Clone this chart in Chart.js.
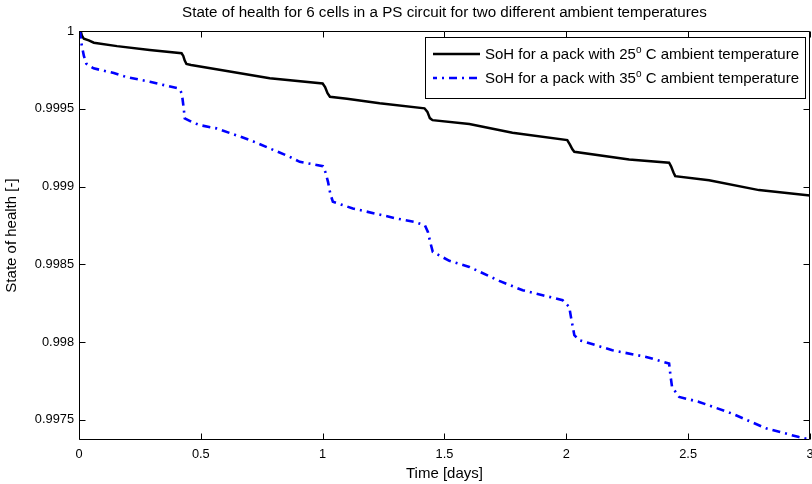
<!DOCTYPE html>
<html><head><meta charset="utf-8">
<script src="https://cdn.jsdelivr.net/npm/chart.js@4/dist/chart.umd.min.js"></script>
<style>html,body{margin:0;padding:0;overflow:hidden;background:#fff}#wrap{width:820px;height:484px;position:relative}</style>
</head><body><div id="wrap"><canvas id="c"></canvas></div>
<script>
const chartTitle = "State of health for 6 cells in a PS circuit for two different ambient temperatures";
const xAxisTitle = "Time [days]";
const yAxisTitle = "State of health [-]";
const seriesNames = ["SoH for a pack with 25\u1d52 C ambient temperature", "SoH for a pack with 35\u1d52 C ambient temperature"];
const xTickValues = [0, 0.5, 1, 1.5, 2, 2.5, 3];
const xTickLabels = ["0", "0.5", "1", "1.5", "2", "2.5", "3"];
const yTickValues = [0.9975, 0.998, 0.9985, 0.999, 0.9995, 1];
const yTickLabels = ["0.9975", "0.998", "0.9985", "0.999", "0.9995", "1"];

const t25 = [0, 0.007, 0.012, 0.02, 0.04, 0.061, 0.156, 0.29, 0.421, 0.428, 0.434, 0.441, 0.46, 0.564, 0.783, 1.0, 1.01, 1.02, 1.03, 1.1, 1.234, 1.418, 1.43, 1.44, 1.451, 1.602, 1.779, 2.004, 2.015, 2.025, 2.033, 2.258, 2.422, 2.43, 2.44, 2.447, 2.586, 2.791, 3.0];
const soh25 = [1.0, 1.0, 0.99997, 0.99995, 0.99994, 0.999925, 0.999903, 0.999878, 0.999857, 0.99984, 0.99981, 0.999788, 0.999782, 0.999754, 0.999696, 0.999663, 0.99964, 0.9996, 0.999577, 0.999565, 0.999535, 0.999503, 0.99948, 0.99944, 0.999427, 0.999402, 0.999346, 0.999299, 0.99927, 0.99924, 0.999223, 0.999174, 0.999153, 0.99913, 0.99909, 0.999067, 0.999041, 0.998977, 0.998943];

const t35 = [0, 0.005, 0.01, 0.02, 0.03, 0.06, 0.143, 0.195, 0.291, 0.407, 0.414, 0.422, 0.43, 0.434, 0.47, 0.496, 0.564, 0.7, 0.865, 0.906, 1.001, 1.012, 1.022, 1.032, 1.042, 1.124, 1.213, 1.302, 1.377, 1.42, 1.432, 1.442, 1.452, 1.52, 1.602, 1.725, 1.821, 1.903, 1.985, 2.012, 2.019, 2.033, 2.053, 2.189, 2.328, 2.422, 2.428, 2.434, 2.463, 2.545, 2.68, 2.82, 2.955, 3.0];
const soh35 = [1.0, 0.99999, 0.99992, 0.99984, 0.99979, 0.99976, 0.99973, 0.999704, 0.999674, 0.999631, 0.99962, 0.9996, 0.9995, 0.999438, 0.99941, 0.999395, 0.999374, 0.9993, 0.999191, 0.999159, 0.999131, 0.99909, 0.99903, 0.99895, 0.998902, 0.998859, 0.998827, 0.998795, 0.998773, 0.99875, 0.998708, 0.99864, 0.99858, 0.998522, 0.998483, 0.998393, 0.998333, 0.998301, 0.998269, 0.998226, 0.998162, 0.998044, 0.998012, 0.997947, 0.997904, 0.997862, 0.99778, 0.997711, 0.997647, 0.997615, 0.99754, 0.997445, 0.997389, 0.997373];

const FONT = '"Liberation Sans", Arial, Helvetica, sans-serif';
Chart.defaults.font.family = FONT;
Chart.defaults.color = '#000';

const pts = (xs, ys) => xs.map((x, i) => ({x: x, y: ys[i]}));

const matlabPlugin = {
  id: 'matlabAxes',
  afterDraw(chart) {
    const ctx = chart.ctx, a = chart.chartArea;
    const xs = chart.scales.x, ys = chart.scales.y;
    const L = Math.round(a.left) + 0.5, R = Math.round(a.right) - 0.5;
    const T = Math.round(a.top) + 0.5, B = Math.round(a.bottom) - 0.5;
    ctx.save();
    ctx.strokeStyle = '#000'; ctx.lineWidth = 1;
    ctx.beginPath(); ctx.rect(L, T, R - L, B - T); ctx.stroke();
    const tl = 6;
    ctx.beginPath();
    xTickValues.forEach(v => {
      const px = Math.round(xs.getPixelForValue(v)) + 0.5;
      ctx.moveTo(px, B); ctx.lineTo(px, B - tl);
      ctx.moveTo(px, T); ctx.lineTo(px, T + tl);
    });
    yTickValues.forEach(v => {
      const py = Math.round(ys.getPixelForValue(v)) + 0.5;
      ctx.moveTo(L, py); ctx.lineTo(L + tl, py);
      ctx.moveTo(R, py); ctx.lineTo(R - tl, py);
    });
    ctx.stroke();

    // legend
    const bx = 425.5, by = 37.5, bw = 380, bh = 61;
    ctx.fillStyle = '#fff'; ctx.fillRect(bx, by, bw, bh);
    ctx.strokeStyle = '#000'; ctx.lineWidth = 1; ctx.strokeRect(bx, by, bw, bh);
    const rows = [54, 78];
    chart.data.datasets.forEach((ds, i) => {
      const y = rows[i];
      ctx.save();
      ctx.strokeStyle = ds.borderColor; ctx.lineWidth = ds.borderWidth;
      ctx.setLineDash(ds.borderDash || []);
      if (ds.borderDash) ctx.lineDashOffset = 4;
      ctx.beginPath(); ctx.moveTo(433, y); ctx.lineTo(480, y); ctx.stroke();
      ctx.restore();
      const parts = ds.label.split('\u1d52');
      ctx.fillStyle = '#000'; ctx.textBaseline = 'middle'; ctx.textAlign = 'left';
      let x = 485;
      ctx.font = '15px ' + FONT;
      ctx.fillText(parts[0], x, y + 1); x += ctx.measureText(parts[0]).width;
      ctx.font = '10px ' + FONT;
      ctx.fillText('o', x, y - 4); x += ctx.measureText('o').width;
      ctx.font = '15px ' + FONT;
      ctx.fillText(parts[1], x, y + 1);
    });
    ctx.restore();
  }
};

new Chart(document.getElementById('c'), {
  type: 'line',
  data: {
    datasets: [
      {label: seriesNames[0], data: pts(t25, soh25), borderColor: '#000000', borderWidth: 2.5, pointRadius: 0, tension: 0, fill: false, order: 1},
      {label: seriesNames[1], data: pts(t35, soh35), borderColor: '#0000ff', borderWidth: 2.6, borderDash: [8, 5, 2, 5], pointRadius: 0, tension: 0, fill: false, order: 0}
    ]
  },
  options: {
    responsive: true, maintainAspectRatio: false, animation: false,
    layout: {padding: {left: 0, right: 9, top: 0, bottom: 0}},
    plugins: {
      legend: {display: false}, tooltip: {enabled: false},
      title: {display: true, fullSize: false, text: chartTitle, color: '#000', font: {size: 15.2, weight: 'normal'}, padding: {top: 4, bottom: 8.8}}
    },
    scales: {
      x: {
        type: 'linear', min: 0, max: 3,
        grid: {display: false, drawTicks: false}, border: {display: false},
        afterBuildTicks: s => { s.ticks = xTickValues.map(v => ({value: v})); },
        afterFit: s => { s.height = 44; },
        ticks: {font: {size: 12.8}, padding: 6.5, maxRotation: 0, autoSkip: false,
          callback: v => { const i = xTickValues.indexOf(v); return i >= 0 ? xTickLabels[i] : ''; }},
        title: {display: true, text: xAxisTitle, font: {size: 15}, padding: {top: 0, bottom: 1}}
      },
      y: {
        type: 'linear', min: 0.99737, max: 1,
        grid: {display: false, drawTicks: false}, border: {display: false},
        afterBuildTicks: s => { s.ticks = yTickValues.map(v => ({value: v})); },
        afterFit: s => { s.width = 79; },
        ticks: {font: {size: 12.8}, padding: 5, autoSkip: false,
          callback: v => { const i = yTickValues.indexOf(v); return i >= 0 ? yTickLabels[i] : ''; }},
        title: {display: true, text: yAxisTitle, font: {size: 15}, padding: {top: 3, bottom: 0}}
      }
    }
  },
  plugins: [matlabPlugin]
});
</script>
</body></html>
